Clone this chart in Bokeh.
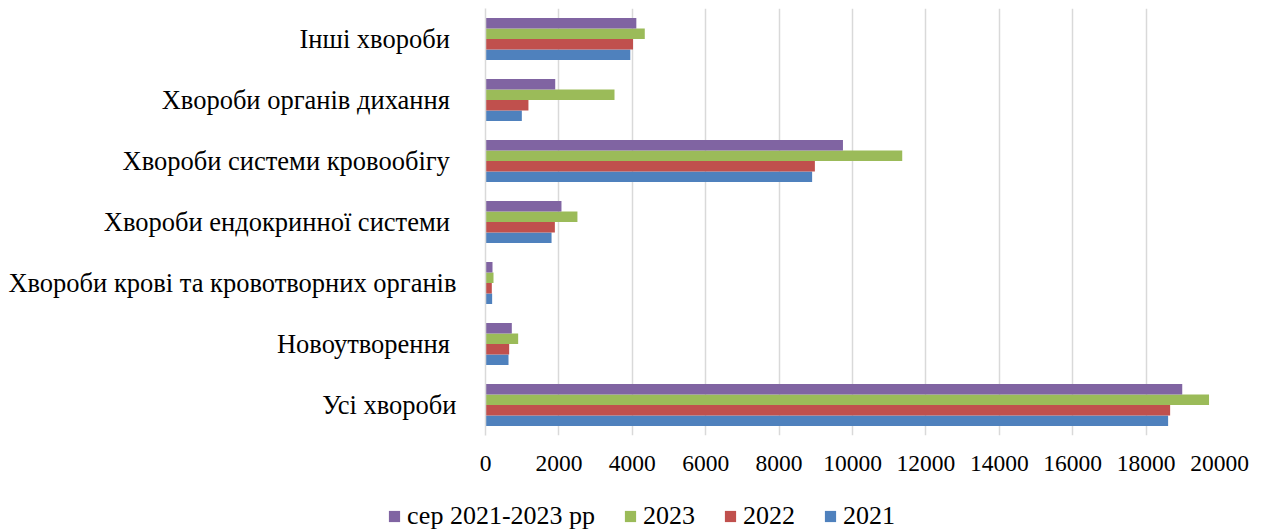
from bokeh.plotting import figure
from bokeh.layouts import column
from bokeh.models import ColumnDataSource, FactorRange, Range1d, FixedTicker, Legend, LegendItem
from bokeh.transform import dodge
from bokeh.embed import file_html
from bokeh.resources import INLINE

NB = "\u00a0"
categories = [
    "Усі хвороби",
    "Новоутворення" + NB,
    "Хвороби крові та кровотворних органів",
    "Хвороби ендокринної системи" + NB,
    "Хвороби системи кровообігу" + NB,
    "Хвороби органів дихання" + NB,
    "Інші хвороби" + NB,
]
v2021 = [18600, 627, 181, 1800, 8900, 990, 3945]
v2022 = [18655, 645, 172, 1890, 8975, 1170, 4020]
v2023 = [19715, 890, 218, 2505, 11355, 3515, 4340]
vavg = [18985, 717, 191, 2070, 9740, 1900, 4110]
series_names = ["2021", "2022", "2023", "сер 2021-2023 рр"]
colors = ["#4F81BD", "#C0504D", "#9BBB59", "#8064A2"]
x_ticks = list(range(0, 20001, 2000))

source = ColumnDataSource(data=dict(cat=categories, v2021=v2021, v2022=v2022, v2023=v2023, vavg=vavg))

FONT = "Liberation Serif"

p = figure(width=1262, height=490, y_range=FactorRange(factors=categories),
           x_range=Range1d(0, 20000), output_backend="svg", toolbar_location=None,
           min_border_left=485, min_border_right=43, min_border_top=8, min_border_bottom=55)
p.outline_line_color = None
p.frame_align = False

bar_h = 0.172
offsets = [-1.5 * bar_h, -0.5 * bar_h, 0.5 * bar_h, 1.5 * bar_h]
fields = ["v2021", "v2022", "v2023", "vavg"]
for f, off, c in zip(fields, offsets, colors):
    p.hbar(y=dodge("cat", off, range=p.y_range), right=f, left=0, height=bar_h,
           source=source, fill_color=c, line_color=None)

p.xaxis.ticker = FixedTicker(ticks=x_ticks)
p.xaxis.axis_line_color = None
p.xaxis.major_tick_line_color = None
p.xaxis.minor_tick_line_color = None
p.xaxis.major_label_text_font = FONT
p.xaxis.major_label_text_font_size = "23.5px"
p.xaxis.major_label_text_color = "#000000"
p.xaxis.major_label_standoff = 14

p.yaxis.axis_line_color = "#d9d9d9"
p.yaxis.axis_line_width = 1.5
p.yaxis.major_tick_line_color = None
p.yaxis.minor_tick_line_color = None
p.yaxis.major_label_text_font = FONT
p.yaxis.major_label_text_font_size = "26.5px"
p.yaxis.major_label_text_color = "#000000"
p.yaxis.major_label_standoff = 23

p.xgrid.grid_line_color = "#d9d9d9"
p.xgrid.grid_line_width = 1.5
p.ygrid.grid_line_color = None

# legend strip
lg = figure(width=1262, height=42, x_range=Range1d(0, 1), y_range=Range1d(0, 1),
            output_backend="svg", toolbar_location=None,
            min_border_left=0, min_border_right=0, min_border_top=0, min_border_bottom=0)
lg.frame_align = False
lg.outline_line_color = None
lg.axis.visible = False
lg.grid.visible = False
lg_renderers = []
for c in colors:
    lg_renderers.append(lg.hbar(y=[0.5], right=[0], left=0, height=0, fill_color=c, line_color=None))
items = [LegendItem(label=series_names[i], renderers=[lg_renderers[i]]) for i in [3, 2, 1, 0]]
legend = Legend(items=items, orientation="horizontal", location=(387, 1),
                label_text_font=FONT, label_text_font_size="26px", label_text_color="#000000",
                glyph_width=14, glyph_height=14, label_standoff=6, spacing=28,
                padding=0, margin=0, border_line_color=None, background_fill_alpha=0)
lg.add_layout(legend, "center")

open("out.html", "w").write(file_html(column(p, lg, spacing=0), INLINE))
